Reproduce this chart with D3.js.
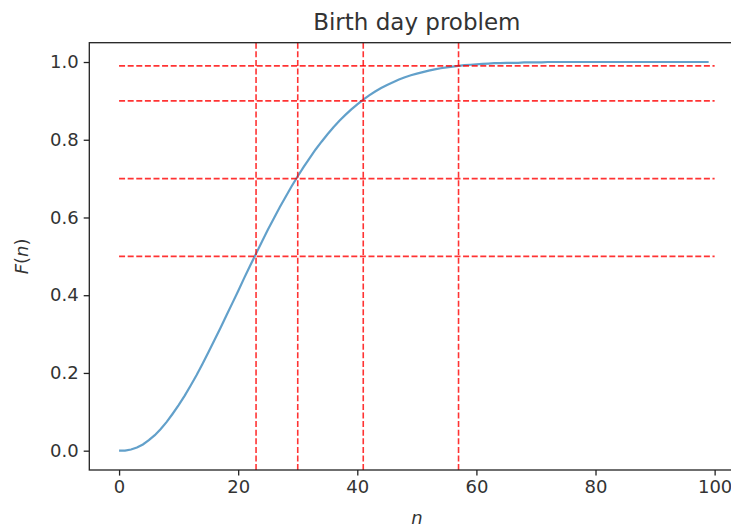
<!DOCTYPE html>
<html>
<head>
<meta charset="utf-8">
<script src="https://cdn.jsdelivr.net/npm/d3@7"></script>
<style>
  body { margin: 0; background: #fff; overflow: hidden; }
  svg { display: block; }
</style>
</head>
<body>
<script>
// probability of a shared birthday, n = 0..99
const probs = [
  0.000, 0.000, 0.003, 0.008, 0.016, 0.027, 0.040, 0.056, 0.074, 0.095,
  0.117, 0.141, 0.167, 0.194, 0.223, 0.253, 0.284, 0.315, 0.347, 0.379,
  0.411, 0.444, 0.476, 0.507, 0.538, 0.569, 0.598, 0.627, 0.654, 0.681,
  0.706, 0.730, 0.753, 0.775, 0.795, 0.814, 0.832, 0.849, 0.864, 0.878,
  0.891, 0.903, 0.914, 0.924, 0.933, 0.941, 0.948, 0.955, 0.961, 0.966,
  0.970, 0.974, 0.978, 0.981, 0.984, 0.986, 0.988, 0.990, 0.992, 0.993,
  0.994, 0.995, 0.996, 0.997, 0.997, 0.998, 0.998, 0.998, 0.999, 0.999,
  0.999, 0.999, 1.000, 1.000, 1.000, 1.000, 1.000, 1.000, 1.000, 1.000,
  1.000, 1.000, 1.000, 1.000, 1.000, 1.000, 1.000, 1.000, 1.000, 1.000,
  1.000, 1.000, 1.000, 1.000, 1.000, 1.000, 1.000, 1.000, 1.000, 1.000
]
const levels = [0.5, 0.7, 0.9, 0.99]      // horizontal thresholds
const crossings = [23, 30, 41, 57]        // n where thresholds are reached
const xTicks = [0, 20, 40, 60, 80, 100]
const yTicks = [0, 0.2, 0.4, 0.6, 0.8, 1.0]

const width = 731
const height = 527
const box = {left: 89.3, right: 744.4, top: 42.7, bottom: 470}

const x = d3.scaleLinear().domain([-5, 105]).range([box.left, box.right])
const y = d3.scaleLinear().domain([-0.0497, 1.0497]).range([box.bottom, box.top])

const svg = d3.select("body").append("svg")
  .attr("width", width)
  .attr("height", height)
  .style("font-family", "'DejaVu Sans', sans-serif")

const plot = svg.append("g")

// curve
const line = d3.line().x((d, i) => x(i)).y((d) => y(d))
plot.append("path")
  .datum(probs)
  .attr("fill", "none")
  .attr("stroke", "#1f77b4")
  .attr("stroke-opacity", 0.7)
  .attr("stroke-width", 2.2)
  .attr("d", line)

// thresholds
plot.append("g").selectAll("line").data(levels).join("line")
  .attr("x1", x(0)).attr("x2", x(100))
  .attr("y1", (d) => y(d)).attr("y2", (d) => y(d))
  .attr("stroke", "#ff0000").attr("stroke-opacity", 0.8)
  .attr("stroke-width", 1.6).attr("stroke-dasharray", "6,2.6")

plot.append("g").selectAll("line").data(crossings).join("line")
  .attr("x1", (d) => x(d)).attr("x2", (d) => x(d))
  .attr("y1", box.top).attr("y2", box.bottom)
  .attr("stroke", "#ff0000").attr("stroke-opacity", 0.8)
  .attr("stroke-width", 1.6).attr("stroke-dasharray", "6,2.6")

// axes
const xAxis = svg.append("g")
  .attr("transform", `translate(0,${box.bottom})`)
  .call(d3.axisBottom(x).tickValues(xTicks).tickSize(5.6).tickPadding(5).tickFormat(d3.format("d")))
const yAxis = svg.append("g")
  .attr("transform", `translate(${box.left},0)`)
  .call(d3.axisLeft(y).tickValues(yTicks).tickSize(5.6).tickPadding(5).tickFormat(d3.format(".1f")))

for (const ax of [xAxis, yAxis]) {
  ax.select(".domain").remove()
  ax.selectAll("line").attr("stroke", "#222").attr("stroke-width", 1.3)
  ax.selectAll("text").attr("font-size", 18).attr("fill", "#333").attr("font-family", "'DejaVu Sans', sans-serif")
}

// frame
svg.append("rect")
  .attr("x", box.left).attr("y", box.top)
  .attr("width", box.right - box.left).attr("height", box.bottom - box.top)
  .attr("fill", "none").attr("stroke", "#222").attr("stroke-width", 1.3)

// labels
svg.append("text")
  .attr("x", (box.left + box.right) / 2).attr("y", 29.5)
  .attr("text-anchor", "middle").attr("font-size", 23).attr("fill", "#333")
  .text("Birth day problem")

svg.append("text")
  .attr("x", (box.left + box.right) / 2).attr("y", 524)
  .attr("text-anchor", "middle").attr("font-size", 18).attr("font-style", "italic").attr("fill", "#333")
  .text("n")

const yl = svg.append("text")
  .attr("transform", `translate(28,${(box.top + box.bottom) / 2}) rotate(-90)`)
  .attr("text-anchor", "middle").attr("font-size", 18).attr("fill", "#333")
yl.append("tspan").attr("font-style", "italic").text("F")
yl.append("tspan").text("(")
yl.append("tspan").attr("font-style", "italic").text("n")
yl.append("tspan").text(")")
</script>
</body>
</html>
